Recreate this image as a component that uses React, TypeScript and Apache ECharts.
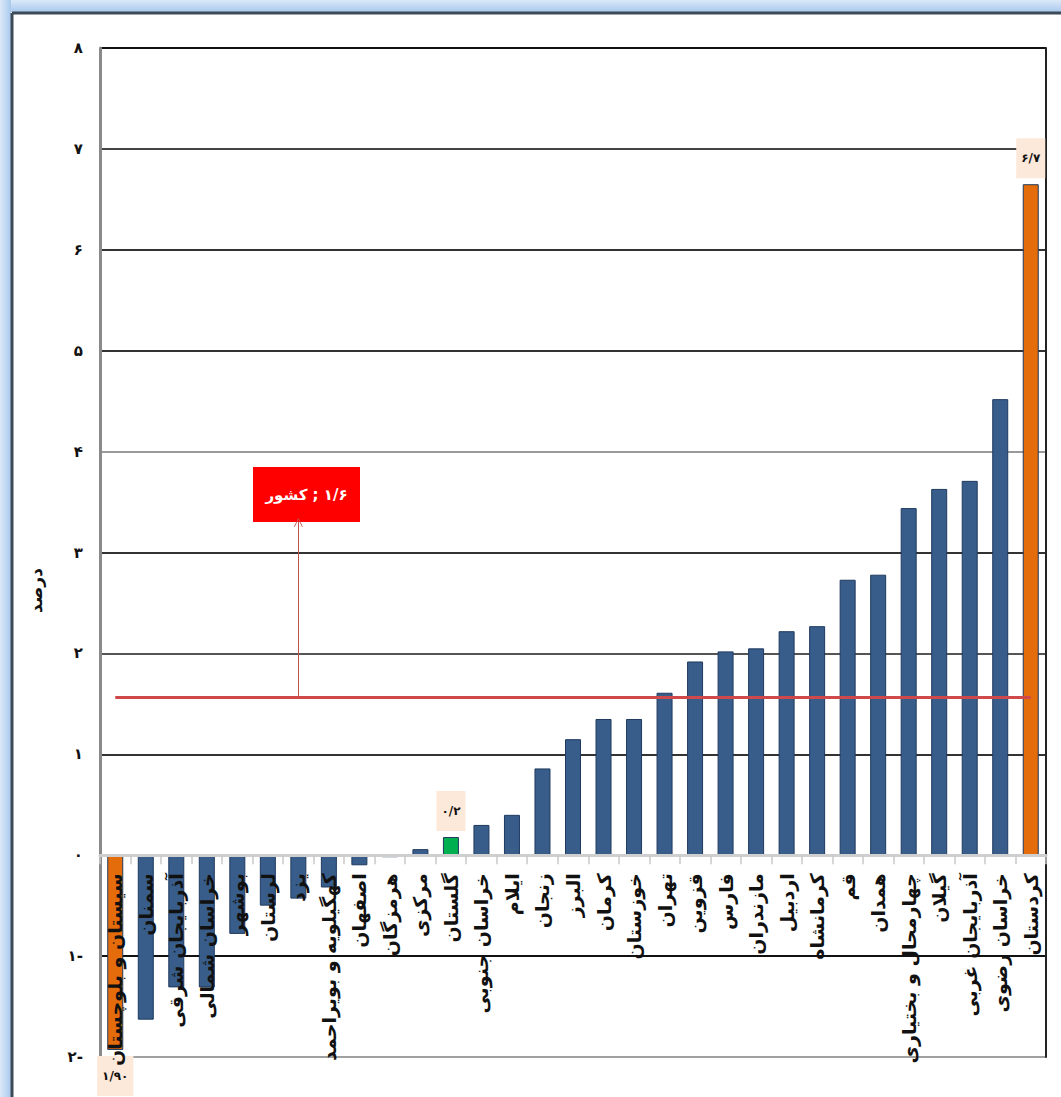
import React, { useEffect, useRef } from "react";
import * as echarts from "echarts";

const provinces = [
  "سیستان و بلوچستان", "سمنان", "آذربایجان شرقی", "خراسان شمالی", "بوشهر", "لرستان", "یزد",
  "کهگیلویه و بویراحمد", "اصفهان", "هرمزگان", "مرکزی", "گلستان", "خراسان جنوبی", "ایلام",
  "زنجان", "البرز", "کرمان", "خوزستان", "تهران", "قزوین", "فارس", "مازندران", "اردبیل",
  "کرمانشاه", "قم", "همدان", "چهارمحال و بختیاری", "گیلان", "آذربایجان غربی", "خراسان رضوی", "کردستان",
];
const values = [
  -1.93, -1.63, -1.31, -1.31, -0.78, -0.5, -0.43, -0.32, -0.1, -0.02, 0.06, 0.18, 0.3, 0.4,
  0.86, 1.15, 1.35, 1.35, 1.61, 1.92, 2.02, 2.05, 2.22, 2.27, 2.73, 2.78, 3.44, 3.63, 3.71, 4.52, 6.65,
];
// bar colour group: 0 = blue, 1 = orange (extremes), 2 = green (highlight)
const colorGroup = [1, 0, 0, 0, 0, 0, 0, 0, 0, 0, 0, 2, 0, 0, 0, 0, 0, 0, 0, 0, 0, 0, 0, 0, 0, 0, 0, 0, 0, 0, 1];
const labelIndex = [0, 11, 30];
const labelText = ["۱/۹۰", "۰/۲", "۶/۷"];
const yTickValues = [-2, -1, 0, 1, 2, 3, 4, 5, 6, 7, 8];
const yTickLabels = ["۲-", "۱-", "۰", "۱", "۲", "۳", "۴", "۵", "۶", "۷", "۸"];
const nationalMean = 1.57;
const nationalName = "کشور";
const nationalValue = "; ۱/۶";
const axisName = "درصد";

const fills = ["#385d8a", "#e46c0a", "#00b050"];
const FONT = "'DejaVu Sans', sans-serif";

export default function App() {
  const ref = useRef<HTMLDivElement>(null);
  useEffect(() => {
    document.body.style.margin = "0";
    const chart = echarts.init(ref.current!, undefined, { renderer: "svg" });
    const data = values.map((v, i) => {
      const li = labelIndex.indexOf(i);
      const item: any = {
        value: v,
        itemStyle: { color: fills[colorGroup[i]], borderColor: "#1f3a5f", borderWidth: 1 },
      };
      if (li >= 0) {
        item.label = {
          show: true,
          position: v < 0 ? "bottom" : "top",
          distance: 6,
          formatter: labelText[li],
          backgroundColor: "#fde9d9",
          padding: [14, 5, 14, 5],
          color: "#111",
          fontFamily: FONT,
          fontWeight: "bold",
          fontSize: 12,
        };
      }
      return item;
    });
    const yAxisCommon = { type: "value", min: -2, max: 8, interval: 1 };
    chart.setOption({
      animation: false,
      backgroundColor: "#ffffff",
      grid: {
        left: 100, right: 15, top: 48, bottom: 40,
        containLabel: false,
        outerBoundsMode: "none",
      },
      xAxis: {
        type: "category",
        data: provinces,
        z: 10,
        axisLine: { onZero: false, lineStyle: { color: "#cfcfcf", width: 3 } },
        axisTick: { show: true, length: 9, lineStyle: { color: "#c8c8c8", width: 1.5 } },
        axisLabel: {
          rotate: 90, interval: 0, margin: 18, hideOverlap: false,
          color: "#111", fontFamily: FONT, fontWeight: "bold", fontSize: 19,
        },
      },
      yAxis: [
        {
          ...yAxisCommon,
          name: axisName,
          nameLocation: "middle",
          nameGap: 56,
          nameTextStyle: { color: "#111", fontFamily: FONT, fontWeight: "bold", fontSize: 17, padding: [0, 76, 0, 0] },
          axisLine: { show: true, lineStyle: { color: "#8a8a8a", width: 3 } },
          axisTick: { show: false },
          axisLabel: {
            margin: 17, color: "#111", fontFamily: FONT, fontWeight: "bold", fontSize: 15,
            formatter: (v: number) => yTickLabels[yTickValues.indexOf(v)] ?? "",
          },
          splitLine: {
            lineStyle: {
              width: 2,
              color: ["#a0a0a0", "#111", "#cccccc", "#333", "#555", "#333", "#9a9a9a", "#333", "#333", "#444", "#111"],
            },
          },
        },
        {
          ...yAxisCommon,
          position: "right",
          axisLine: { show: true, lineStyle: { color: "#222", width: 2 } },
          axisTick: { show: false },
          axisLabel: { show: false },
          splitLine: { show: false },
        },
      ],
      series: [
        {
          type: "bar",
          data,
          barWidth: 16,
          markLine: {
            silent: true,
            symbol: "none",
            label: { show: false },
            data: [
              [
                { coord: [0, nationalMean], lineStyle: { color: "#d0494a", width: 3, type: "solid" } },
                { coord: [30, nationalMean] },
              ],
              [
                { coord: [6.28, nationalMean], lineStyle: { color: "#c0504d", width: 1, type: "solid" } },
                { coord: [6.28, 3.3], symbol: "path://M0 10 L5 0 L10 10 L9 10 L5 2 L1 10 Z", symbolSize: [9, 9] },
              ],
            ],
          },
        },
      ],
      graphic: [
        {
          type: "rect", left: 0, top: 0, z: 100,
          shape: { width: 1061, height: 12 },
          style: { fill: new echarts.graphic.LinearGradient(0, 0, 0, 1, [{ offset: 0, color: "#dbe9f8" }, { offset: 1, color: "#a9c9ee" }]) },
        },
        {
          type: "rect", left: 0, top: 0, z: 100,
          shape: { width: 11, height: 1097 },
          style: { fill: new echarts.graphic.LinearGradient(0, 0, 1, 0, [{ offset: 0, color: "#dbe9f8" }, { offset: 1, color: "#a9c9ee" }]) },
        },
        { type: "line", z: 101, shape: { x1: 12, y1: 13, x2: 1061, y2: 13 }, style: { stroke: "#3d4a58", lineWidth: 3 } },
        { type: "line", z: 101, shape: { x1: 12, y1: 13, x2: 12, y2: 1097 }, style: { stroke: "#3d4a58", lineWidth: 3 } },
        {
          type: "group", left: 253, top: 467, z: 50,
          children: [
            { type: "rect", shape: { x: 0, y: 0, width: 107, height: 55 }, style: { fill: "#ff0000" } },
            {
              type: "text", x: 53.5, y: 27.5,
              style: {
                text: "{a|" + nationalName + "}{b| " + nationalValue + "}",
                rich: {
                  a: { fill: "#ffffff", fontFamily: FONT, fontWeight: "bold", fontSize: 15 },
                  b: { fill: "#ffffff", fontFamily: FONT, fontWeight: "bold", fontSize: 15 },
                },
                fill: "#ffffff", fontFamily: FONT, fontWeight: "bold", fontSize: 15,
                align: "center", verticalAlign: "middle",
              },
            },
          ],
        },
      ],
    });
    // move the category axis (line, ticks and labels) onto the zero line
    const zeroY = chart.convertToPixel({ yAxisIndex: 0 }, 0) as number;
    const bottomY = chart.convertToPixel({ yAxisIndex: 0 }, -2) as number;
    chart.setOption({ xAxis: { offset: zeroY - bottomY } });
    return () => chart.dispose();
  }, []);
  return <div ref={ref} style={{ width: 1061, height: 1097 }} />;
}
